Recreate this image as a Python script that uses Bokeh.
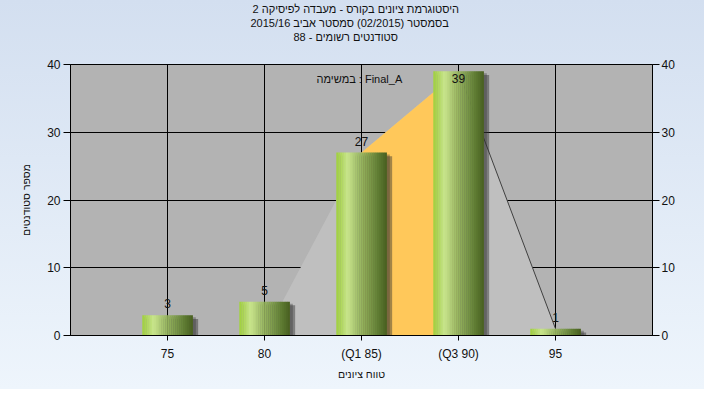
import numpy as np
from bokeh.plotting import figure
from bokeh.models import Range1d, LinearAxis, FixedTicker, Label, ColumnDataSource, Title
from bokeh.embed import file_html
from bokeh.resources import INLINE
from bokeh.core.properties import value

# ---- data ----
grades = [75, 80, 85, 90, 95]
counts = [3, 5, 27, 39, 1]
tick_labels = ["75", "80", "(Q1 85)", "(Q3 90)", "95"]
curve_x = [80, 85, 90, 95]
curve_y = [0, 27, 39, 1]
q1_grade = 85
q3_grade = 90
title_lines = [
    "היסטוגרמת ציונים בקורס - מעבדה לפיסיקה 2",
    "בסמסטר  (02/2015)  סמסטר אביב 2015/16",
    "סטודנטים רשומים - 88",
]
y_label = "מספר סטודנטים"
x_label = "טווח ציונים"
task_label = "במשימה : Final_A"

FONT = "Liberation Sans"

p = figure(width=704, height=389, output_backend="svg", toolbar_location=None,
           x_range=Range1d(70, 100), y_range=Range1d(0, 40),
           min_border_left=70, min_border_right=52, min_border_top=64, min_border_bottom=54)
p.border_fill_color = None
p.styles = {"background-image": "linear-gradient(to bottom, #d3dff0, #eef5fc)"}
p.background_fill_color = "#b3b3b3"
p.outline_line_color = "black"
p.outline_line_width = 1

# title lines (stacked outward from the plot: spacer nearest, then line 3, line 2, line 1 = p.title)
def style_title(t, off):
    t.align = "left"
    t.offset = off
    t.text_font = FONT
    t.text_font_size = "11px"
    t.text_font_style = "normal"
    t.text_color = "#111111"
    t.standoff = 0

p.title.text = title_lines[0]
style_title(p.title, 182)
spacer = Title(text=" ")
style_title(spacer, 0)
spacer.standoff = 8
p.add_layout(spacer, "above")
t3 = Title(text=title_lines[2])
style_title(t3, 223)
p.add_layout(t3, "above")
t2 = Title(text=title_lines[1])
style_title(t2, 180)
p.add_layout(t2, "above")

# grids
p.xgrid.ticker = FixedTicker(ticks=grades)
p.ygrid.ticker = FixedTicker(ticks=[10, 20, 30, 40])
for g in (p.xgrid, p.ygrid):
    g.grid_line_color = "black"
    g.grid_line_width = 1

# distribution area (light gray)
area_x = list(curve_x) + [curve_x[-1]]
area_y = list(curve_y) + [0]
p.patch(area_x, area_y, fill_color="#bfbfbf", line_color=None)

# Q1-Q3 area (orange)
qx = [q1_grade, q1_grade, q3_grade, q3_grade]
qy = [0, float(np.interp(q1_grade, curve_x, curve_y)), float(np.interp(q3_grade, curve_x, curve_y)), 0]
p.patch(qx, qy, fill_color="#ffc85a", line_color=None)

# line from Q3 onward
idx = curve_x.index(q3_grade)
p.line(curve_x[idx:], curve_y[idx:], line_color="#404040", line_width=1)

# bars with shadows and gradient
bw = 2.6
gx = np.array(grades, dtype=float)
gc = np.array(counts, dtype=float)
p.quad(left=gx - bw / 2 + 0.18, right=gx + bw / 2 + 0.28, top=gc - 0.55, bottom=-1,
       fill_color="#303030", fill_alpha=0.45, line_color=None)
p.quad(left=gx - bw / 2 + 0.10, right=gx + bw / 2 + 0.16, top=gc - 0.3, bottom=-1,
       fill_color="#303030", fill_alpha=0.35, line_color=None)

stops = [(0.0, (160, 208, 60)), (0.22, (200, 228, 140)), (0.5, (150, 180, 95)),
         (0.8, (100, 130, 55)), (1.0, (72, 95, 32))]
n = 26
ls, rs, ts, bs, cs = [], [], [], [], []
for x, c in zip(gx, gc):
    for i in range(n):
        t = (i + 0.5) / n
        for (t0, c0), (t1, c1) in zip(stops[:-1], stops[1:]):
            if t0 <= t <= t1:
                f = (t - t0) / (t1 - t0)
                col = tuple(int(round(a + (b - a) * f)) for a, b in zip(c0, c1))
                break
        ls.append(x - bw / 2 + i * bw / n)
        rs.append(x - bw / 2 + (i + 1) * bw / n + 0.01)
        ts.append(c)
        bs.append(0)
        cs.append("#%02x%02x%02x" % col)
p.quad(left=ls, right=rs, top=ts, bottom=bs, fill_color=cs, line_color=None)

# value labels
lab_y = np.minimum(gc, 36.2)
src = ColumnDataSource(dict(x=gx, y=lab_y, t=[str(c) for c in counts]))
p.text(x="x", y="y", text="t", source=src, text_align="center", text_baseline="bottom",
       y_offset=-7, text_font=value(FONT), text_font_size="12px", text_color="#111111")

# task label
p.add_layout(Label(x=87.1, y=37.9, text=task_label, text_align="right", text_baseline="middle",
                   text_font=FONT, text_font_size="11px", text_color="#111111"))

# axes
def style_axis(ax):
    ax.axis_line_color = "black"
    ax.major_tick_line_color = "black"
    ax.minor_tick_line_color = None
    ax.major_tick_in = 0
    ax.major_tick_out = 5
    ax.major_label_text_font = FONT
    ax.major_label_text_font_size = "12px"
    ax.major_label_text_color = "#111111"
    ax.axis_label_text_font = FONT
    ax.axis_label_text_font_size = "10.5px"
    ax.axis_label_text_font_style = "normal"
    ax.axis_label_text_color = "#111111"

xa = p.xaxis[0]
xa.ticker = FixedTicker(ticks=grades)
xa.major_label_overrides = {g: l for g, l in zip(grades, tick_labels)}
xa.axis_label = x_label
style_axis(xa)
xa.major_label_standoff = 6
xa.axis_label_standoff = 4

ya = p.yaxis[0]
ya.ticker = FixedTicker(ticks=[0, 10, 20, 30, 40])
ya.axis_label = y_label
style_axis(ya)
ya.major_tick_out = 7
ya.major_label_standoff = 3
ya.axis_label_standoff = 12

yr = LinearAxis(ticker=FixedTicker(ticks=[0, 10, 20, 30, 40]))
style_axis(yr)
yr.major_tick_out = 7
yr.major_label_standoff = 2
p.add_layout(yr, "right")

open("out.html", "w").write(file_html(p, INLINE))
